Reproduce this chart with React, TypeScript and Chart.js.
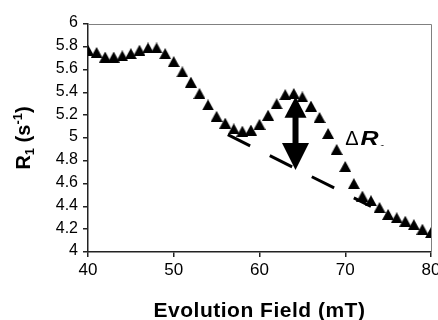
import React, { useEffect, useRef } from 'react';
import { Chart, registerables } from 'chart.js';

Chart.register(...registerables);

// ---- data ----
const fields = [40, 41, 42, 43, 44, 45, 46, 47, 48, 49, 50, 51, 52, 53, 54, 55, 56, 57, 58, 59, 60,
  61, 62, 63, 64, 65, 66, 67, 68, 69, 70, 71, 72, 73, 74, 75, 76, 77, 78, 79, 80];
const r1Values = [5.77, 5.75, 5.71, 5.71, 5.72, 5.74, 5.77, 5.79, 5.79, 5.74, 5.67, 5.58, 5.49, 5.39,
  5.29, 5.19, 5.13, 5.08, 5.06, 5.07, 5.12, 5.2, 5.3, 5.38, 5.39, 5.36, 5.28, 5.18, 5.04, 4.9,
  4.75, 4.6, 4.49, 4.45, 4.39, 4.33, 4.3, 4.27, 4.24, 4.2, 4.17];
const baselineFields = [56.3, 73.0];
const baselineValues = [5.03, 4.4];
const arrowField = 64.2;
const arrowTopValue = 5.362;
const arrowBottomValue = 4.72;
const deltaLabelField = 70.0;
const deltaLabelValue = 4.94;
const xTickValues = [40, 50, 60, 70, 80];
const yMin = 4;
const yMax = 6;
const yStep = 0.2;
const xTitle = 'Evolution Field (mT)';

const FONT = "'Liberation Sans', Arial, sans-serif";

function makeTriangle(w: number, h: number) {
  const c = document.createElement('canvas');
  c.width = w;
  c.height = h;
  const ctx = c.getContext('2d')!;
  ctx.fillStyle = '#000';
  ctx.beginPath();
  ctx.moveTo(w / 2, 0);
  ctx.lineTo(w, h);
  ctx.lineTo(0, h);
  ctx.closePath();
  ctx.fill();
  return c;
}

const decorPlugin = {
  id: 'decor',
  beforeDatasetsDraw(chart: any) {
    const { ctx, chartArea } = chart;
    ctx.save();
    ctx.strokeStyle = '#808080';
    ctx.lineWidth = 1;
    ctx.beginPath();
    ctx.moveTo(chartArea.left, chartArea.top + 0.5);
    ctx.lineTo(chartArea.right + 0.5, chartArea.top + 0.5);
    ctx.lineTo(chartArea.right + 0.5, chartArea.bottom);
    ctx.stroke();
    ctx.restore();
  },
  afterDatasetsDraw(chart: any) {
    const { ctx, scales } = chart;
    const xs = scales.x;
    const ys = scales.y;
    // arrow
    const ax = xs.getPixelForValue(arrowField);
    const yTop = ys.getPixelForValue(arrowTopValue);
    const yBot = ys.getPixelForValue(arrowBottomValue);
    const upHead = 21, upHalf = 11, downHead = 27, downHalf = 13.5, shaft = 6;
    ctx.save();
    ctx.fillStyle = '#000';
    ctx.beginPath();
    ctx.moveTo(ax, yTop);
    ctx.lineTo(ax + upHalf, yTop + upHead);
    ctx.lineTo(ax - upHalf, yTop + upHead);
    ctx.closePath();
    ctx.fill();
    ctx.fillRect(ax - shaft / 2, yTop + upHead - 1, shaft, yBot - downHead - (yTop + upHead) + 2);
    ctx.beginPath();
    ctx.moveTo(ax, yBot);
    ctx.lineTo(ax + downHalf, yBot - downHead);
    ctx.lineTo(ax - downHalf, yBot - downHead);
    ctx.closePath();
    ctx.fill();

    // ΔR1 label
    const lx = xs.getPixelForValue(deltaLabelField);
    const ly = ys.getPixelForValue(deltaLabelValue);
    ctx.textBaseline = 'alphabetic';
    ctx.textAlign = 'left';
    ctx.font = `20px ${FONT}`;
    ctx.fillText('\u0394', lx, ly);
    const dw = ctx.measureText('\u0394').width;
    ctx.save();
    ctx.translate(lx + dw + 2, ly);
    ctx.scale(1.25, 1);
    ctx.font = `italic bold 20px ${FONT}`;
    ctx.fillText('R', 0, 0);
    const rw = ctx.measureText('R').width;
    ctx.restore();
    ctx.save();
    ctx.beginPath();
    ctx.rect(lx, ly - 30, 60, 31);
    ctx.clip();
    ctx.font = `italic bold 13px ${FONT}`;
    ctx.fillText('1', lx + dw + 2 + rw * 1.25 - 1, ly + 9);
    ctx.restore();
    ctx.restore();
  },
  afterDraw(chart: any) {
    const { ctx, chartArea } = chart;
    ctx.save();
    ctx.fillStyle = '#000';
    // x title
    ctx.font = `bold 21px ${FONT}`;
    (ctx as any).letterSpacing = '0.5px';
    ctx.textAlign = 'center';
    ctx.textBaseline = 'alphabetic';
    ctx.fillText(xTitle, (chartArea.left + chartArea.right) / 2, chart.height - 3);
    (ctx as any).letterSpacing = '0px';
    // y title: R1 (s-1)
    const segs = [
      { t: 'R', f: `bold 20px ${FONT}`, dy: 0 },
      { t: '1', f: `bold 13px ${FONT}`, dy: 4 },
      { t: ' (s', f: `bold 20px ${FONT}`, dy: 0 },
      { t: '-1', f: `bold 13px ${FONT}`, dy: -8 },
      { t: ')', f: `bold 20px ${FONT}`, dy: 0 },
    ];
    ctx.textAlign = 'left';
    let total = 0;
    const widths = segs.map((s) => {
      ctx.font = s.f;
      const w = ctx.measureText(s.t).width;
      total += w;
      return w;
    });
    ctx.translate(30, (chartArea.top + chartArea.bottom) / 2);
    ctx.rotate(-Math.PI / 2);
    let x = -total / 2;
    segs.forEach((s, i) => {
      ctx.font = s.f;
      ctx.fillText(s.t, x, s.dy);
      x += widths[i];
    });
    ctx.restore();
  },
};

export default function App() {
  const ref = useRef<HTMLCanvasElement | null>(null);
  useEffect(() => {
    if (!ref.current) return;
    const tri = makeTriangle(12, 11);
    const chart = new Chart(ref.current, {
      type: 'scatter',
      data: {
        datasets: [
          {
            label: 'R1',
            data: fields.map((f, i) => ({ x: f, y: r1Values[i] })),
            pointStyle: tri as any,
            pointRadius: 6,
            showLine: false,
            order: 1,
          },
          {
            type: 'line',
            label: 'baseline',
            data: baselineFields.map((f, i) => ({ x: f, y: baselineValues[i] })),
            borderColor: '#000',
            borderWidth: 3,
            borderDash: [25, 22],
            borderCapStyle: 'butt',
            pointRadius: 0,
            showLine: true,
            fill: false,
            order: 2,
          } as any,
        ],
      },
      options: {
        responsive: false,
        animation: false,
        devicePixelRatio: 1,
        layout: { padding: { top: 24, right: 6, left: 0, bottom: 0 } },
        plugins: { legend: { display: false }, tooltip: { enabled: false } },
        events: [],
        scales: {
          x: {
            type: 'linear',
            min: 40,
            max: 80,
            afterBuildTicks: (s: any) => {
              s.ticks = xTickValues.map((v) => ({ value: v }));
            },
            ticks: {
              font: { family: FONT, size: 17 },
              color: '#000',
              padding: 3,
              maxRotation: 0,
              autoSkip: false,
            },
            grid: { display: true, drawOnChartArea: false, drawTicks: true, tickLength: 5, color: '#222', lineWidth: 1.5 },
            border: { display: true, color: '#222', width: 1.5 },
            afterFit: (s: any) => {
              s.height = 68;
              s.paddingLeft = 0;
              s.paddingRight = 0;
            },
          },
          y: {
            type: 'linear',
            min: yMin,
            max: yMax,
            ticks: {
              stepSize: yStep,
              font: { family: FONT, size: 16 },
              color: '#000',
              padding: 5,
              labelOffset: -1,
              callback: (v: any) => String(Math.round(Number(v) * 10) / 10),
            },
            grid: { display: true, drawOnChartArea: false, drawTicks: true, tickLength: 5, color: '#222', lineWidth: 1.5 },
            border: { display: true, color: '#222', width: 1.5 },
            afterFit: (s: any) => {
              s.width = 88;
              s.paddingTop = 0;
              s.paddingBottom = 0;
            },
          },
        },
      },
      plugins: [decorPlugin],
    });
    return () => chart.destroy();
  }, []);
  return (
    <div style={{ position: 'absolute', left: 0, top: 0, width: 438, height: 320, background: '#fff' }}>
      <canvas ref={ref} width={438} height={320} style={{ display: 'block' }} />
    </div>
  );
}
